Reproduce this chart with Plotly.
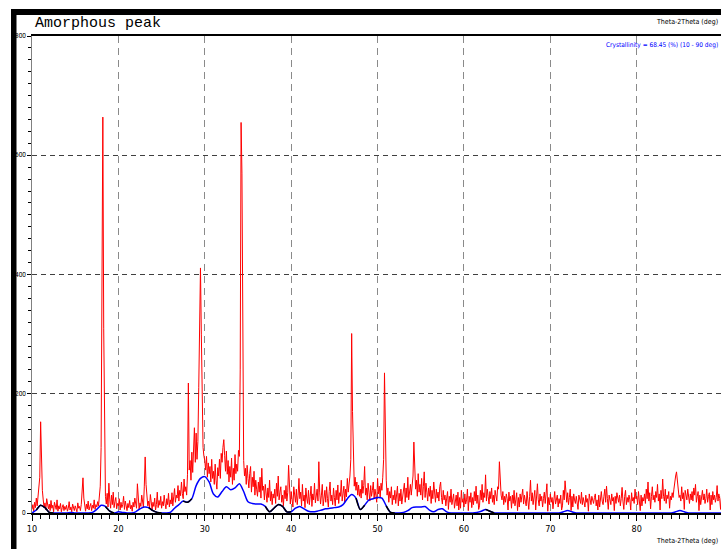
import numpy as np
import plotly.graph_objects as go

# 2-theta scan: 10.0 .. 90.0 deg, 0.1 deg step
scan_start, scan_step = 10.0, 0.1
intensity_rows = [
    [6, 14, 3, 18, 9, 25, 12, 30, 45, 60],          # 10
    [153, 70, 38, 22, 9, 17, 5, 24, 11, 7],         # 11
    [15, 4, 21, 8, 13, 2, 18, 10, 6, 22],           # 12
    [3, 12, 7, 16, 2, 9, 14, 4, 11, 6],             # 13
    [13, 3, 8, 19, 5, 10, 2, 15, 7, 4],             # 14
    [12, 6, 2, 17, 8, 11, 4, 14, 30, 59],           # 15
    [25, 9, 3, 15, 7, 20, 5, 11, 16, 4],            # 16
    [13, 8, 22, 6, 14, 10, 19, 12, 30, 45],         # 17
    [110, 420, 664, 310, 70, 28, 15, 33, 10, 50],   # 18
    [22, 8, 30, 14, 35, 9, 19, 26, 7, 16],          # 19
    [12, 24, 5, 18, 9, 14, 28, 6, 20, 11],          # 20
    [4, 16, 9, 21, 7, 13, 3, 18, 10, 25],           # 21
    [14, 8, 49, 20, 6, 17, 11, 30, 22, 9],          # 22
    [45, 94, 48, 26, 12, 20, 8, 31, 15, 6],         # 23
    [18, 11, 25, 5, 14, 35, 9, 21, 13, 28],         # 24
    [8, 19, 12, 30, 16, 7, 24, 14, 33, 10],         # 25
    [22, 15, 34, 12, 27, 41, 18, 30, 25, 46],       # 26
    [20, 38, 29, 52, 33, 24, 57, 36, 44, 30],       # 27
    [65, 218, 72, 88, 55, 102, 68, 96, 143, 85],    # 28
    [134, 90, 120, 210, 380, 411, 300, 160, 110, 95],  # 29
    [88, 72, 95, 60, 84, 66, 78, 52, 90, 58],       # 30
    [70, 48, 82, 55, 40, 76, 62, 90, 58, 100],      # 31
    [85, 110, 123, 96, 70, 104, 65, 88, 52, 78],    # 32
    [60, 92, 48, 75, 55, 98, 66, 82, 70, 105],      # 33
    [95, 240, 655, 570, 180, 88, 62, 75, 48, 80],   # 34
    [58, 42, 66, 78, 35, 60, 44, 70, 30, 55],       # 35
    [40, 28, 52, 35, 60, 25, 75, 38, 45, 22],       # 36
    [48, 30, 18, 42, 26, 55, 20, 36, 14, 32],       # 37
    [25, 40, 16, 50, 28, 62, 22, 35, 44, 18],       # 38
    [30, 12, 38, 24, 46, 20, 34, 80, 28, 15],       # 39
    [36, 22, 10, 44, 26, 18, 40, 14, 30, 58],       # 40
    [24, 35, 12, 48, 20, 30, 9, 42, 25, 16],        # 41
    [38, 14, 28, 45, 11, 32, 22, 50, 17, 29],       # 42
    [40, 20, 86, 35, 15, 30, 48, 12, 26, 38],       # 43
    [18, 44, 24, 10, 36, 52, 20, 30, 14, 42],       # 44
    [26, 12, 38, 22, 47, 16, 34, 28, 55, 20],       # 45
    [32, 45, 18, 40, 27, 58, 35, 48, 62, 90],       # 46
    [301, 170, 72, 45, 60, 38, 52, 30, 47, 28],     # 47
    [40, 25, 55, 33, 46, 78, 30, 42, 22, 50],       # 48
    [35, 20, 46, 28, 38, 52, 24, 40, 30, 18],       # 49
    [58, 32, 45, 26, 50, 38, 60, 90, 235, 120],     # 50
    [55, 30, 42, 18, 36, 25, 44, 14, 30, 22],       # 51
    [38, 16, 28, 45, 12, 33, 20, 40, 15, 27],       # 52
    [35, 50, 18, 42, 26, 60, 22, 38, 48, 30],       # 53
    [45, 62, 119, 70, 40, 55, 28, 66, 35, 48],      # 54
    [30, 58, 22, 44, 69, 26, 50, 35, 20, 42],       # 55
    [28, 45, 16, 38, 24, 52, 30, 18, 40, 25],       # 56
    [35, 20, 44, 52, 26, 15, 38, 22, 30, 12],       # 57
    [25, 36, 6, 28, 18, 40, 14, 22, 32, 8],         # 58
    [20, 30, 12, 35, 5, 26, 8, 38, 18, 24],         # 59
    [10, 32, 15, 22, 40, 4, 28, 18, 34, 9],         # 60
    [26, 14, 36, 20, 45, 16, 30, 6, 12, 38],        # 61
    [22, 48, 18, 34, 26, 64, 20, 40, 28, 15],       # 62
    [36, 24, 42, 18, 30, 14, 38, 26, 20, 44],       # 63
    [40, 86, 55, 30, 22, 36, 14, 28, 18, 32],       # 64
    [24, 5, 35, 20, 28, 8, 30, 16, 38, 12],         # 65
    [22, 34, 4, 26, 10, 32, 18, 28, 40, 15],        # 66
    [30, 20, 12, 36, 24, 6, 28, 55, 20, 34],        # 67
    [14, 26, 38, 5, 30, 49, 22, 12, 32, 20],        # 68
    [28, 10, 24, 35, 16, 30, 49, 3, 26, 14],        # 69
    [32, 18, 26, 7, 28, 36, 15, 22, 30, 10],        # 70
    [24, 16, 30, 5, 12, 38, 22, 54, 28, 18],        # 71
    [34, 14, 26, 40, 4, 28, 10, 32, 22, 16],        # 72
    [28, 20, 6, 30, 24, 16, 35, 14, 26, 20],        # 73
    [10, 30, 18, 24, 3, 32, 20, 14, 28, 22],        # 74
    [16, 26, 32, 12, 22, 5, 30, 10, 24, 36],        # 75
    [20, 14, 28, 40, 18, 45, 24, 6, 30, 22],        # 76
    [14, 32, 20, 26, 4, 28, 16, 34, 22, 18],        # 77
    [30, 12, 24, 43, 20, 6, 28, 38, 14, 26],        # 78
    [18, 30, 22, 5, 34, 20, 26, 16, 40, 24],        # 79
    [28, 14, 36, 22, 4, 30, 12, 26, 20, 32],        # 80
    [16, 40, 24, 52, 20, 34, 7, 28, 44, 22],        # 81
    [30, 18, 36, 26, 48, 20, 32, 5, 38, 24],        # 82
    [57, 28, 20, 40, 16, 30, 24, 36, 8, 28],        # 83
    [22, 34, 26, 40, 55, 62, 69, 50, 38, 26],       # 84
    [30, 20, 44, 24, 34, 6, 38, 28, 22, 40],        # 85
    [26, 16, 32, 22, 36, 20, 42, 30, 48, 18],       # 86
    [28, 36, 4, 30, 14, 26, 38, 22, 32, 16],        # 87
    [24, 40, 18, 28, 34, 5, 30, 14, 36, 22],        # 88
    [30, 18, 26, 46, 20, 32, 24, 6, 28, 20],        # 89
    [22],                                           # 90
]

# fitted amorphous hump, 0.5 deg step from 10 to 90
amorphous_step = 0.5
amorphous_fit = [
    0, 5, 13, 9, 1, 0, 0, 0, 0, 1,
    0, 0, 0, 0, 1, 6, 13, 11, 3, 0,
    2, 1, 0, 0, 2, 7, 10, 9, 4, 1,
    0, 0, 1, 8, 14, 20, 18, 24, 46, 58,
    61, 52, 32, 27, 36, 44, 39, 42, 49, 36,
    19, 16, 15, 15, 11, 2, 8, 14, 11, 2,
    2, 8, 11, 7, 3, 2, 3, 5, 7, 8,
    9, 10, 14, 24, 31, 25, 6, 13, 22, 24,
    26, 25, 12, 1, 0, 0, 1, 4, 9, 10,
    10, 11, 5, 2, 6, 7, 2, 0, 0, 0,
    0, 0, 0, 1, 3, 6, 3, 0, 0, 0,
    0, 0, 0, 0, 0, 0, 0, 0, 0, 0,
    0, 0, 0, 2, 4, 2, 0, 0, 0, 0,
    0, 0, 0, 0, 0, 0, 0, 0, 0, 0,
    0, 0, 0, 0, 0, 0, 0, 0, 0, 2,
    4, 2, 0, 0, 0, 0, 0, 0, 0, 0,
    0,
]

# stretches of the fit drawn as background (black)
background_ranges = [(10.5, 12.5), (18.5, 19.5), (23.5, 25.0), (27.5, 28.5),
                     (37.0, 40.0), (47.5, 48.5), (51.0, 52.0), (62.5, 63.5)]

x_ticks = [10, 20, 30, 40, 50, 60, 70, 80, 90]
y_ticks = [0, 200, 400, 600, 800]

title_text = "Amorphous peak"
axis_text = "Theta-2Theta (deg)"
crystallinity_text = "Crystallinity = 68.45 (%) (10 - 90 deg)"

intensity = [v for row in intensity_rows for v in row]
two_theta = np.round(scan_start + scan_step * np.arange(len(intensity)), 2)
fit_x = np.round(scan_start + amorphous_step * np.arange(len(amorphous_fit)), 2)
background = [v if any(a <= x <= b for a, b in background_ranges) else None
              for x, v in zip(fit_x, amorphous_fit)]

fig = go.Figure()
fig.add_trace(go.Scatter(x=two_theta, y=intensity, mode="lines",
                         line=dict(color="#ff0000", width=1), hoverinfo="skip"))
fig.add_trace(go.Scatter(x=fit_x, y=amorphous_fit, mode="lines",
                         line=dict(color="#0000ff", width=1.5, shape="spline", smoothing=0.8),
                         hoverinfo="skip"))
fig.add_trace(go.Scatter(x=fit_x, y=background, mode="lines",
                         line=dict(color="#000000", width=1.5, shape="spline", smoothing=0.8),
                         connectgaps=False, hoverinfo="skip"))

narrow = "Liberation Sans Narrow, DejaVu Sans Condensed, Arial Narrow, Roboto, sans-serif"

W, H = 721, 549
L, R, T, B = 32, 0, 36, 36
pw, ph = W - L - R, H - T - B


def px(xp):
    return (xp - L) / pw


def py(yp):
    return (H - B - yp) / ph


# y tick labels squeezed between the page frame stroke and the axis ticks
y_labels = [dict(text=str(t), xref="paper", yref="y", x=px(27.5), y=t,
                 xanchor="right", yanchor="middle", showarrow=False,
                 font=dict(family="Roboto, sans-serif", size=6.5, color="#000"))
            for t in y_ticks]

fig.update_layout(
    width=W, height=H,
    margin=dict(l=L, r=R, t=T, b=B, pad=0),
    paper_bgcolor="white", plot_bgcolor="white",
    showlegend=False,
    xaxis=dict(
        range=[10, 89.75], tickvals=x_ticks, ticktext=[str(t) for t in x_ticks],
        ticks="outside", ticklen=6, tickcolor="#000", tickwidth=1,
        minor=dict(dtick=1, ticks="outside", ticklen=4, tickcolor="#000", showgrid=False),
        showline=True, linecolor="#000", linewidth=2, mirror=True,
        showgrid=True, gridcolor="#8a8a8a", griddash="7px,5px", gridwidth=1,
        zeroline=False, tickfont=dict(family=narrow, size=9, color="#000"),
    ),
    yaxis=dict(
        range=[0, 800], tickvals=y_ticks, showticklabels=False,
        ticks="outside", ticklen=4, tickcolor="#000", tickwidth=1,
        minor=dict(dtick=20, ticks="outside", ticklen=3, tickcolor="#000", showgrid=False),
        showline=True, linecolor="#808080", linewidth=1,
        showgrid=True, gridcolor="#404040", griddash="5px,4px", gridwidth=1,
        zeroline=False,
    ),
    shapes=[
        # heavy frame strokes along the left and top of the page
        dict(type="rect", xref="paper", yref="paper", x0=px(11), x1=px(16.5),
             y0=py(549), y1=py(9), fillcolor="#000", line=dict(width=0), layer="below"),
        dict(type="rect", xref="paper", yref="paper", x0=px(11), x1=px(725),
             y0=py(15), y1=py(9), fillcolor="#000", line=dict(width=0), layer="below"),
    ],
    annotations=y_labels + [
        dict(text=title_text, xref="paper", yref="paper", x=px(33), y=py(34),
             xanchor="left", yanchor="bottom", showarrow=False,
             font=dict(family="Liberation Mono, DejaVu Sans Mono, monospace", size=15, color="#000")),
        dict(text=axis_text, xref="paper", yref="paper", x=px(720), y=py(22),
             xanchor="right", yanchor="middle", showarrow=False,
             font=dict(family=narrow, size=7, color="#000")),
        dict(text=crystallinity_text, xref="paper", yref="paper", x=px(720), y=py(45),
             xanchor="right", yanchor="middle", showarrow=False,
             font=dict(family=narrow, size=6.5, color="#0000ff")),
        dict(text=axis_text, xref="paper", yref="paper", x=px(720), y=py(541),
             xanchor="right", yanchor="middle", showarrow=False,
             font=dict(family=narrow, size=7, color="#000")),
    ],
)

fig.write_html("out.html")
